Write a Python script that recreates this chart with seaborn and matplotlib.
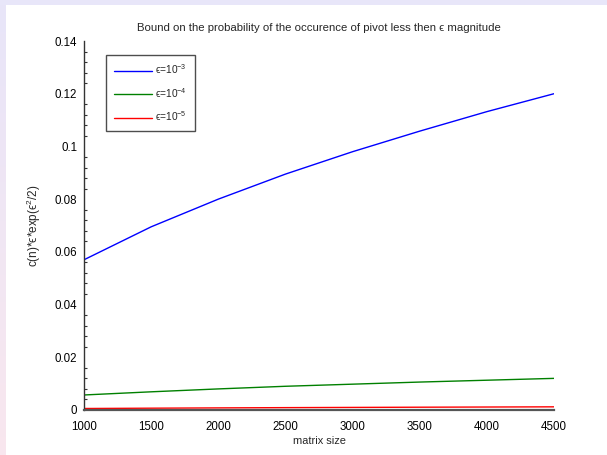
import numpy as np
import pandas as pd
import matplotlib
matplotlib.use("Agg")
import matplotlib.pyplot as plt
from matplotlib.patches import Rectangle
from matplotlib.lines import Line2D
from matplotlib.ticker import MultipleLocator
import seaborn as sns

# matrix sizes and bound values for each epsilon
matrix_size = [1000, 1500, 2000, 2500, 3000, 3500, 4000, 4500]
eps_1e3 = [0.0570, 0.0695, 0.0800, 0.0895, 0.0980, 0.1058, 0.1132, 0.1200]
eps_1e4 = [0.0057, 0.0069, 0.0080, 0.0090, 0.0098, 0.0106, 0.0113, 0.0120]
eps_1e5 = [0.00057, 0.00069, 0.00080, 0.00090, 0.00098, 0.00106, 0.00113, 0.00120]
series_labels = ["ϵ=10$^{-3}$", "ϵ=10$^{-4}$", "ϵ=10$^{-5}$"]
x_ticks = [1000, 1500, 2000, 2500, 3000, 3500, 4000, 4500]
y_ticks = [0, 0.02, 0.04, 0.06, 0.08, 0.1, 0.12, 0.14]
y_tick_labels = ["0", "0.02", "0.04", "0.06", "0.08", "0.1", "0.12", "0.14"]
colors = ["#0000ff", "#008000", "#ff0000"]

df = pd.DataFrame({
    "n": matrix_size * 3,
    "bound": eps_1e3 + eps_1e4 + eps_1e5,
    "eps": [series_labels[0]] * 8 + [series_labels[1]] * 8 + [series_labels[2]] * 8,
})

sns.set_style("white")
plt.rcParams["font.family"] = ["Liberation Sans", "DejaVu Sans"]
plt.rcParams["mathtext.fontset"] = "custom"
plt.rcParams["mathtext.rm"] = "Liberation Sans"
plt.rcParams["mathtext.it"] = "Liberation Sans:italic"

fig = plt.figure(figsize=(6.07, 4.55), dpi=100, facecolor="white")

# page border: lavender band on top, lavender-to-pink band on the left
fig.patches.append(Rectangle((0, 1 - 5 / 455), 1, 5 / 455, transform=fig.transFigure,
                             facecolor="#e8e6f9", edgecolor="none", zorder=-10))
grad_ax = fig.add_axes([0, 0, 6 / 607, 1 - 5 / 455], zorder=-5)
top_c = np.array([0.91, 0.90, 0.975])
bot_c = np.array([0.975, 0.905, 0.935])
t = np.linspace(0, 1, 200)[:, None, None]
grad = (1 - t) * top_c + t * bot_c
grad_ax.imshow(grad, aspect="auto", extent=[0, 1, 0, 1])
grad_ax.axis("off")

ax = fig.add_axes([84 / 607, 1 - 410 / 455, 470 / 607, 369 / 455])
ax.set_facecolor("white")

sns.lineplot(data=df, x="n", y="bound", hue="eps", palette=colors,
             linewidth=1.0, ax=ax, legend=False)

ax.set_xlim(1000, 4500)
ax.set_ylim(0, 0.14)
ax.set_xticks(x_ticks)
ax.set_xticklabels([str(v) for v in x_ticks])
ax.set_yticks(y_ticks)
ax.set_yticklabels(y_tick_labels)
ax.yaxis.set_minor_locator(MultipleLocator(0.004))

for side in ["top", "right"]:
    ax.spines[side].set_visible(False)
ax.spines["left"].set_color("#333333")
ax.spines["bottom"].set_color("#555555")
ax.spines["left"].set_linewidth(1.0)
ax.spines["bottom"].set_linewidth(1.6)

ax.tick_params(axis="both", which="major", direction="in", length=4, width=0.8,
               colors="#333333", labelcolor="black", labelsize=8.3)
ax.tick_params(axis="x", which="major", pad=8)
ax.tick_params(axis="y", which="major", pad=5)
ax.tick_params(axis="y", which="minor", direction="in", length=2, width=0.8,
               colors="#333333", left=True)

ax.set_xlabel("matrix size", fontsize=7.9, labelpad=2)
ax.set_ylabel("c(n)*ϵ*exp(ϵ$^{2}$/2)", fontsize=8.5, labelpad=8)
ax.set_title("Bound on the probability of the occurence of pivot less then ϵ magnitude",
             fontsize=8.2, pad=7)

handles = [Line2D([], [], color=c, linewidth=1.0) for c in colors]
leg = ax.legend(handles, series_labels, loc="upper left",
                bbox_to_anchor=(0.047, 0.962), fontsize=7.3,
                frameon=True, fancybox=False, handlelength=3.8,
                labelspacing=0.95, borderpad=0.75, handletextpad=0.3,
                borderaxespad=0)
leg.get_frame().set_edgecolor("#222222")
leg.get_frame().set_linewidth(1.0)

fig.savefig("out.png", dpi=100, facecolor=fig.get_facecolor())
